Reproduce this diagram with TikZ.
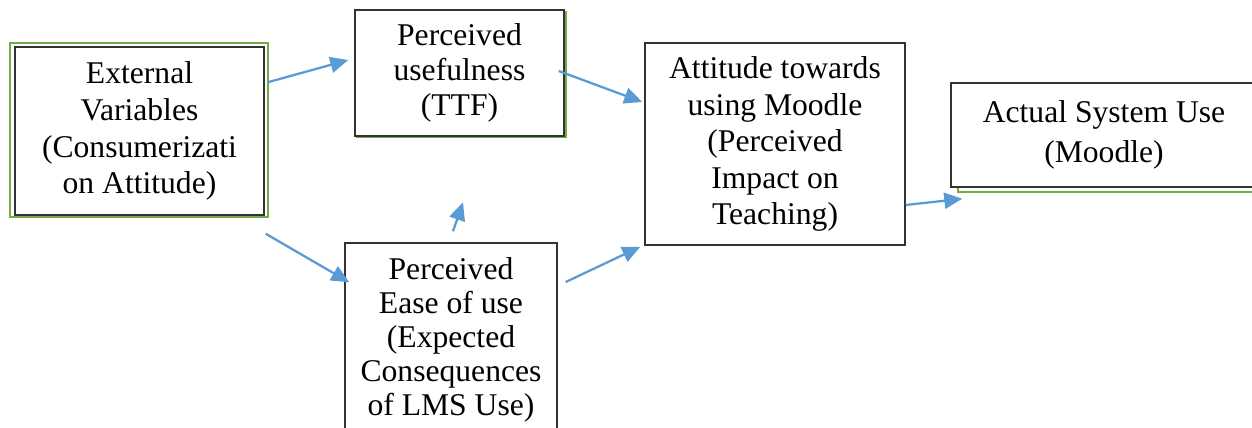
\documentclass[tikz,border=0pt]{standalone}
\usepackage{fontspec}
\setmainfont{Liberation Serif}
\usetikzlibrary{arrows.meta}
\definecolor{flowblue}{HTML}{5B9BD5}
\definecolor{frameGreen}{HTML}{70AD47}
\newcommand{\boxfont}[1]{\fontsize{18}{#1}\selectfont}
\begin{document}
\begin{tikzpicture}[x=0.02cm,y=-0.02cm,
	box/.style={draw=black!80,line width=0.85pt,fill=white,align=center,inner sep=0pt},
	shade/.style={draw=frameGreen,line width=1.2pt},
	flow/.style={draw=flowblue,line width=1.3pt,-{Triangle[length=0.36cm,width=0.32cm]}}]
	\useasboundingbox (0,0) rectangle (1252,427);
	\clip (0,0) rectangle (1252,427);
	%green frame and shadows
	\draw[shade] (10,43) rectangle (268,217);
	\draw[shade] (958,88) rectangle (1264,192);
	\draw[shade] (357,12) rectangle (566,137);
	%TAM boxes
	\node[box,font=\boxfont{21},minimum width=4.98cm,minimum height=3.36cm] (ev) at (139.5,131) {External\\Variables\\(Consumerizati\\on Attitude)};
	\node[box,font=\boxfont{20},minimum width=4.18cm,minimum height=2.52cm] (pu) at (459.5,73) {Perceived\\usefulness\\(TTF)};
	\node[box,font=\boxfont{19.4},minimum width=4.24cm,minimum height=3.88cm] (peu) at (451,340) {Perceived\\Ease of use\\(Expected\\Consequences\\of LMS Use)};
	\node[box,font=\boxfont{20.8},minimum width=5.2cm,minimum height=4.04cm] (att) at (775,144) {Attitude towards\\using Moodle\\(Perceived\\Impact on\\Teaching)};
	\node[box,font=\boxfont{22.5},minimum width=6.12cm,minimum height=2.08cm] (asu) at (1104,135) {Actual System Use\\(Moodle)};
	%arrows
	\coordinate (up) at ([shift={(12,-40)}]peu.north);
	\draw[flow] ([shift={(4,-49)}]ev.east) -- ([shift={(-6,-13)}]pu.west);
	\draw[flow] ([shift={(1,18)}]ev.south east) -- ([shift={(5,40)}]peu.north west);
	\draw[flow] ([shift={(2,-11)}]peu.north) -- (up);
	\draw[flow] ([shift={(-6,-2)}]pu.east) -- ([shift={(-2,-42)}]att.west);
	\draw[flow] ([shift={(8,-58)}]peu.east) -- ([shift={(-4,1)}]att.south west);
	\draw[flow] ([shift={(0,61)}]att.east) -- ([shift={(12,11)}]asu.south west);
\end{tikzpicture}
\end{document}
